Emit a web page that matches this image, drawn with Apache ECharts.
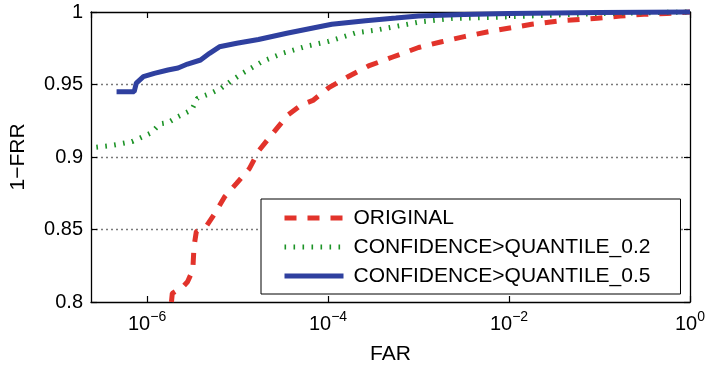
<!DOCTYPE html>
<html>
<head>
<meta charset="utf-8">
<script src="https://cdn.jsdelivr.net/npm/echarts@6/dist/echarts.min.js"></script>
<style>
  html, body { margin: 0; padding: 0; background: #fff; }
  #chart { width: 708px; height: 370px; }
</style>
</head>
<body>
<div id="chart"></div>
<script>
// FAR axis range
const FAR_MIN = 2.4e-7;
const FAR_MAX = 1;

// ORIGINAL
const originalFar = [1.86e-6, 1.9e-6, 2.5e-6, 2.8e-6, 3.2e-6, 3.3e-6, 3.5e-6, 4.6e-6, 5.6e-6, 7.2e-6,
  9.8e-6, 1.35e-5, 1.74e-5, 2.45e-5, 3.6e-5, 5.1e-5, 6.8e-5, 1.02e-4, 1.7e-4, 2.8e-4,
  5.1e-4, 1e-3, 1.8e-3, 3.2e-3, 5.9e-3, 0.0107, 0.0178, 0.035, 0.095, 0.17, 0.31, 0.55, 1];
const originalTpr = [0.800, 0.806, 0.8106, 0.814, 0.822, 0.838, 0.8485, 0.853, 0.861, 0.8726,
  0.882, 0.892, 0.9048, 0.9163, 0.929, 0.936, 0.939, 0.9478, 0.9557, 0.9628,
  0.9688, 0.9755, 0.9795, 0.983, 0.9864, 0.9892, 0.9915, 0.9938, 0.9957, 0.9972, 0.9984, 0.999, 1.0];

// CONFIDENCE>QUANTILE_0.2
const q02Far = [2.75e-7, 3.7e-7, 4.8e-7, 6.8e-7, 8.7e-7, 1.12e-6, 1.38e-6, 1.7e-6, 2.2e-6, 3.1e-6,
  3.6e-6, 5.1e-6, 6.6e-6, 8.5e-6, 1.15e-5, 1.9e-5, 3.2e-5, 5.7e-5, 1.02e-4, 2.0e-4,
  3.6e-4, 1e-3, 2.3e-3, 8e-3, 0.029, 0.1, 1];
const q02Tpr = [0.9067, 0.9076, 0.9088, 0.9106, 0.9136, 0.9168, 0.9228, 0.9237, 0.9278, 0.9324,
  0.9405, 0.944, 0.9474, 0.9525, 0.958, 0.966, 0.9717, 0.9763, 0.9798, 0.9855,
  0.9878, 0.993, 0.9955, 0.9965, 0.9978, 0.999, 1.0];

// CONFIDENCE>QUANTILE_0.5
const q05Far = [4.6e-7, 7.2e-7, 7.6e-7, 9.1e-7, 1.2e-6, 1.7e-6, 2.2e-6, 2.8e-6, 3.9e-6, 4.9e-6,
  6.3e-6, 9.8e-6, 1.7e-5, 3.5e-5, 6.6e-5, 1.1e-4, 2.6e-4, 5.6e-4, 1e-3, 3.2e-3, 1e-2, 0.1, 1];
const q05Tpr = [0.945, 0.945, 0.951, 0.9554, 0.9577, 0.960, 0.9614, 0.9641, 0.9669, 0.9715,
  0.976, 0.9784, 0.981, 0.9853, 0.9888, 0.9915, 0.994, 0.9958, 0.9972, 0.9982, 0.999, 0.9996, 1.0];

const seriesNames = ['ORIGINAL', 'CONFIDENCE>QUANTILE_0.2', 'CONFIDENCE>QUANTILE_0.5'];

const FONT = '"Liberation Sans", Arial, Helvetica, sans-serif';
const zip = (xs, ys) => xs.map((x, i) => [x, ys[i]]);

// 10^n tick labels with a superscript exponent
function powerLabel(v) {
  const e = Math.round(Math.log10(v));
  return '{b|10}{s|' + (e < 0 ? '\u2212' + (-e) : String(e)) + '}';
}

const axisLineStyle = { color: '#000', width: 1.3 };
const tickStyle = { show: true, inside: true, length: 6, lineStyle: { color: '#000', width: 1.2 } };

const RED = '#e2332b';
const GREEN = '#1c9326';
const BLUE = '#2f409f';

const chart = echarts.init(document.getElementById('chart'), null, { renderer: 'canvas' });
chart.setOption({
  animation: false,
  backgroundColor: '#fff',
  textStyle: { fontFamily: FONT },
  grid: { left: 91, right: 16, top: 12, bottom: 68, containLabel: false },
  legend: {
    orient: 'vertical',
    left: 261,
    top: 199,
    backgroundColor: '#fff',
    borderColor: '#000',
    borderWidth: 1,
    borderRadius: 0,
    padding: [8, 30, 7, 21],
    itemWidth: 59,
    itemHeight: 14,
    itemGap: 7,
    itemStyle: { opacity: 0 },
    lineStyle: { width: 5 },
    textStyle: { fontSize: 21, fontFamily: FONT, color: '#000', lineHeight: 22, padding: [0, 0, 0, 5] },
    data: seriesNames
  },
  xAxis: [{
    type: 'log',
    logBase: 100,
    min: FAR_MIN,
    max: FAR_MAX,
    position: 'bottom',
    axisLine: { show: true, onZero: false, lineStyle: axisLineStyle },
    axisTick: tickStyle,
    axisLabel: {
      showMinLabel: false,
      margin: 8,
      color: '#000',
      formatter: powerLabel,
      rich: {
        b: { fontSize: 20, fontFamily: FONT, color: '#000', lineHeight: 24, verticalAlign: 'bottom' },
        s: { fontSize: 14, fontFamily: FONT, color: '#000', lineHeight: 14, verticalAlign: 'top' }
      }
    },
    splitLine: { show: false },
    name: 'FAR',
    nameLocation: 'middle',
    nameGap: 42,
    nameTextStyle: { fontSize: 21, fontFamily: FONT, color: '#000' }
  }, {
    type: 'log',
    logBase: 100,
    min: FAR_MIN,
    max: FAR_MAX,
    position: 'top',
    axisLine: { show: true, onZero: false, lineStyle: axisLineStyle },
    axisTick: tickStyle,
    axisLabel: { show: false },
    splitLine: { show: false }
  }],
  yAxis: [{
    type: 'value',
    min: 0.8,
    max: 1,
    interval: 0.05,
    position: 'left',
    axisLine: { show: true, onZero: false, lineStyle: axisLineStyle },
    axisTick: tickStyle,
    axisLabel: { fontSize: 20, fontFamily: FONT, color: '#000', margin: 8 },
    splitLine: {
      show: true,
      showMinLine: false,
      showMaxLine: false,
      lineStyle: { color: '#7a7a7a', width: 1.3, type: [2, 3] }
    },
    name: '1\u2212FRR',
    nameLocation: 'middle',
    nameGap: 62,
    nameTextStyle: { fontSize: 21, fontFamily: FONT, color: '#000' }
  }, {
    type: 'value',
    min: 0.8,
    max: 1,
    interval: 0.05,
    position: 'right',
    axisLine: { show: true, onZero: false, lineStyle: axisLineStyle },
    axisTick: tickStyle,
    axisLabel: { show: false },
    splitLine: { show: false }
  }],
  series: [{
    name: seriesNames[0],
    type: 'line',
    data: zip(originalFar, originalTpr),
    showSymbol: false,
    symbol: 'none',
    clip: false,
    lineStyle: { color: RED, width: 5, type: [12, 11] },
    itemStyle: { color: RED }
  }, {
    name: seriesNames[1],
    type: 'line',
    data: zip(q02Far, q02Tpr),
    showSymbol: false,
    symbol: 'none',
    clip: false,
    lineStyle: { color: GREEN, width: 5, type: [1.6, 7.4] },
    itemStyle: { color: GREEN }
  }, {
    name: seriesNames[2],
    type: 'line',
    data: zip(q05Far, q05Tpr),
    showSymbol: false,
    symbol: 'none',
    clip: false,
    lineStyle: { color: BLUE, width: 5 },
    itemStyle: { color: BLUE }
  }]
});
</script>
</body>
</html>
